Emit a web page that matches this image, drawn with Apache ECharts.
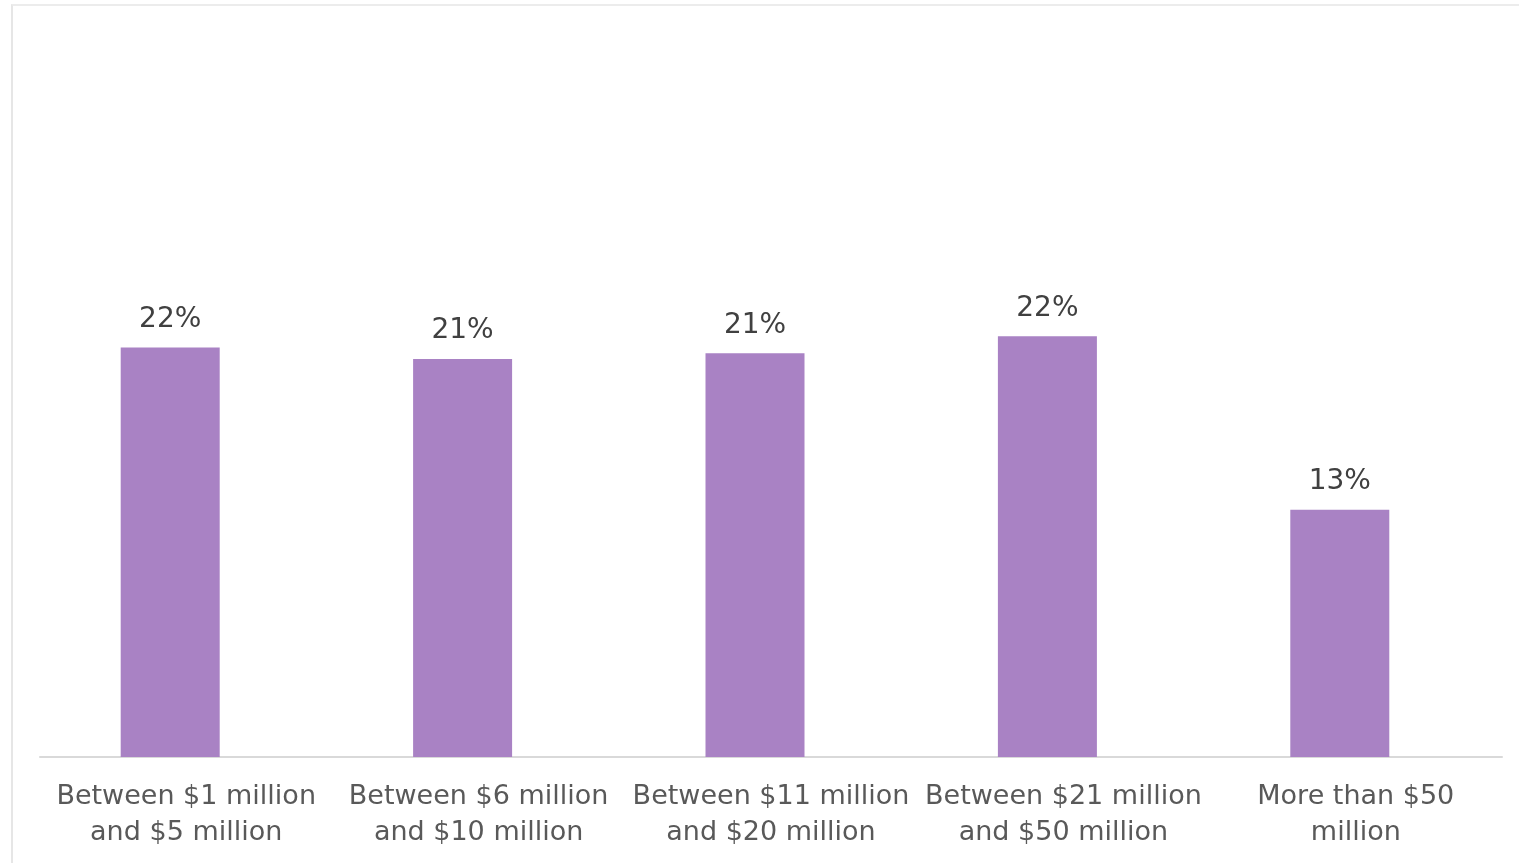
<!DOCTYPE html>
<html>
<head>
<meta charset="utf-8">
<script src="https://cdn.jsdelivr.net/npm/echarts@6/dist/echarts.min.js"></script>
<style>
html,body{margin:0;padding:0;background:#fff;}
#frame{position:absolute;left:11px;top:4px;width:1508px;height:859px;border-top:2px solid #ececec;border-left:2px solid #e6e6e6;box-sizing:border-box;}
#chart{position:absolute;left:0;top:0;width:1519px;height:863px;}
</style>
</head>
<body>
<div id="frame"></div>
<div id="chart"></div>
<script>
const categories = [
  "Between $1 million\nand $5 million",
  "Between $6 million\nand $10 million",
  "Between $11 million\nand $20 million",
  "Between $21 million\nand $50 million",
  "More than $50\nmillion"
];
const values = [21.7, 21.1, 21.4, 22.3, 13.1];
const valueLabels = ["22%", "21%", "21%", "22%", "13%"];

const chart = echarts.init(document.getElementById('chart'), null, {renderer: 'canvas'});
chart.setOption({
  animation: false,
  backgroundColor: 'transparent',
  grid: {left: 40, right: 17, top: 191, bottom: 106, containLabel: false},
  xAxis: {
    type: 'category',
    data: categories,
    axisLine: {show: true, lineStyle: {color: '#d9d9d9', width: 2}},
    axisTick: {show: false},
    axisLabel: {
      interval: 0,
      color: '#595959',
      fontFamily: 'DejaVu Sans',
      fontSize: 27,
      lineHeight: 36,
      margin: 22
    }
  },
  yAxis: {
    type: 'value', min: 0, max: 30,
    show: false,
    splitLine: {show: false}
  },
  series: [
    {
      type: 'bar',
      data: values,
      barWidth: 99,
      barGap: '0%',
      itemStyle: {color: '#a982c4'},
      label: {
        show: true,
        position: 'top',
        distance: 14,
        color: '#404040',
        fontFamily: 'DejaVu Sans',
        fontSize: 28,
        formatter: p => valueLabels[p.dataIndex]
      }
    },
    {
      type: 'bar',
      data: values.map(() => null),
      barWidth: 32,
      barGap: '0%',
      silent: true,
      itemStyle: {color: 'transparent'}
    }
  ]
});
</script>
</body>
</html>
